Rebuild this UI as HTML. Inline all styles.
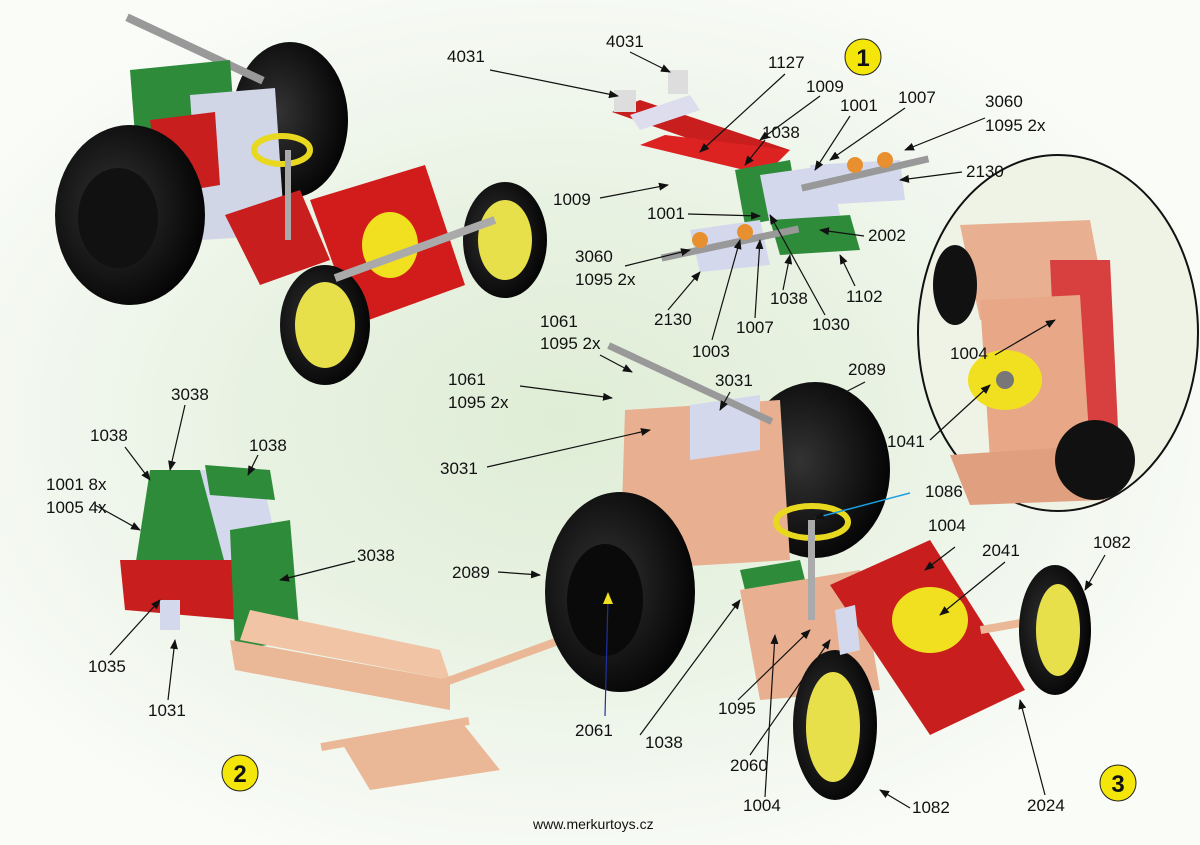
<!DOCTYPE html>
<html><head><meta charset="utf-8"><style>
html,body{margin:0;padding:0;width:1200px;height:845px;overflow:hidden}
body{background:radial-gradient(ellipse 700px 480px at 560px 420px,#dfedd6 0%,#e8f2e2 45%,#f4f8f1 80%,#fafcf8 100%)}
svg{display:block}
text{font-family:"Liberation Sans",Arial,sans-serif;font-size:17px;fill:#111}
</style></head><body>
<svg width="1200" height="845" viewBox="0 0 1200 845">
<defs>
<marker id="a" markerWidth="10" markerHeight="8" refX="9" refY="4" orient="auto" markerUnits="userSpaceOnUse"><path d="M0,0 L10,4 L0,8z" fill="#111"/></marker>
<radialGradient id="tire" cx="40%" cy="45%" r="60%"><stop offset="0" stop-color="#333"/><stop offset="1" stop-color="#050505"/></radialGradient>
</defs>

<g>
<ellipse cx="290" cy="120" rx="58" ry="78" fill="url(#tire)"/>
<rect x="120" y="45" width="150" height="8" fill="#999" transform="rotate(25 195 49)"/>
<polygon points="130,70 230,60 240,200 140,200" fill="#2e8b3a"/>
<polygon points="190,95 275,88 285,235 200,240" fill="#d0d6e6"/>
<polygon points="150,120 215,112 220,185 160,195" fill="#c81e1e"/>
<ellipse cx="130" cy="215" rx="75" ry="90" fill="url(#tire)"/>
<ellipse cx="118" cy="218" rx="40" ry="50" fill="#111"/>
<polygon points="225,215 300,190 330,260 260,285" fill="#c81e1e"/>
<polygon points="310,200 425,165 465,285 355,325" fill="#d21c1c"/>
<ellipse cx="390" cy="245" rx="28" ry="33" fill="#f0e020"/>
<ellipse cx="282" cy="150" rx="28" ry="14" fill="none" stroke="#e8d820" stroke-width="6"/>
<rect x="285" y="150" width="6" height="90" fill="#aaa"/>
<ellipse cx="505" cy="240" rx="42" ry="58" fill="url(#tire)"/>
<ellipse cx="505" cy="240" rx="27" ry="40" fill="#e8e04a"/>
<ellipse cx="325" cy="325" rx="45" ry="60" fill="url(#tire)"/>
<ellipse cx="325" cy="325" rx="30" ry="43" fill="#e8e04a"/>
<rect x="330" y="245" width="170" height="8" fill="#aaa" transform="rotate(-20 415 249)"/>
</g>

<g>
<polygon points="612,112 640,100 790,150 765,165" fill="#c81e1e"/>
<polygon points="640,145 665,135 790,150 765,175" fill="#d22"/>
<polygon points="630,115 690,95 700,110 640,130" fill="#dde"/>
<rect x="614" y="90" width="22" height="22" fill="#ddd"/>
<rect x="668" y="70" width="20" height="24" fill="#ddd"/>
<polygon points="735,170 790,160 800,215 745,225" fill="#2e8b3a"/>
<polygon points="760,175 830,165 840,215 770,225" fill="#d4d8ec"/>
<polygon points="770,220 850,215 860,250 780,255" fill="#2e8b3a"/>
<polygon points="810,165 900,160 905,200 820,205" fill="#d4d8ec"/>
<rect x="800" y="170" width="130" height="7" fill="#999" transform="rotate(-13 865 173)"/>
<polygon points="690,230 760,220 770,265 700,272" fill="#d4d8ec"/>
<rect x="660" y="240" width="140" height="7" fill="#999" transform="rotate(-12 730 243)"/>
<circle cx="855" cy="165" r="8" fill="#e89030"/>
<circle cx="885" cy="160" r="8" fill="#e89030"/>
<circle cx="700" cy="240" r="8" fill="#e89030"/>
<circle cx="745" cy="232" r="8" fill="#e89030"/>
</g>

<g>
<ellipse cx="1058" cy="333" rx="140" ry="178" fill="#eef3e6" stroke="#111" stroke-width="2"/>
<polygon points="960,225 1090,220 1105,300 980,320" fill="#e8b090"/>
<polygon points="1050,260 1110,260 1120,470 1060,470" fill="#d84040"/>
<polygon points="980,300 1080,295 1090,450 990,460" fill="#e8a888"/>
<polygon points="950,455 1100,445 1105,500 970,505" fill="#e0a080"/>
<ellipse cx="955" cy="285" rx="22" ry="40" fill="#111"/>
<ellipse cx="1095" cy="460" rx="40" ry="40" fill="#111"/>
<ellipse cx="1005" cy="380" rx="37" ry="30" fill="#f0e020"/>
<circle cx="1005" cy="380" r="9" fill="#777"/>
</g>

<g>
<polygon points="150,470 200,470 230,560 130,600" fill="#2e8b3a"/>
<polygon points="200,470 260,470 290,600 240,620" fill="#d4d8ec"/>
<polygon points="120,560 240,560 240,620 125,610" fill="#c81e1e"/>
<polygon points="230,530 290,520 300,640 235,650" fill="#2e8b3a"/>
<polygon points="205,465 270,470 275,500 210,495" fill="#2e8b3a"/>
<polygon points="230,640 450,680 450,710 235,670" fill="#eab896"/>
<polygon points="250,610 440,650 450,680 240,640" fill="#f0c4a4"/>
<polygon points="340,740 460,720 500,770 370,790" fill="#eab896"/>
<rect x="430" y="660" width="130" height="8" fill="#eab896" transform="rotate(-20 495 664)"/>
<rect x="320" y="730" width="150" height="8" fill="#eab896" transform="rotate(-10 395 734)"/>
<polygon points="160,600 180,600 180,630 160,630" fill="#d4d8ec"/>
</g>

<g>
<ellipse cx="815" cy="470" rx="75" ry="88" fill="url(#tire)"/>
<polygon points="625,410 780,400 790,560 620,570" fill="#e8b090"/>
<polygon points="690,405 760,395 760,450 690,460" fill="#d4d8ec"/>
<rect x="600" y="380" width="180" height="7" fill="#999" transform="rotate(25 690 384)"/>
<ellipse cx="620" cy="592" rx="75" ry="100" fill="url(#tire)"/>
<ellipse cx="605" cy="600" rx="38" ry="56" fill="#0a0a0a"/>
<polygon points="740,570 800,560 810,600 750,610" fill="#2e8b3a"/>
<polygon points="740,590 860,570 880,690 760,700" fill="#e8b090"/>
<ellipse cx="812" cy="522" rx="36" ry="16" fill="none" stroke="#e8d820" stroke-width="6"/>
<rect x="808" y="520" width="7" height="100" fill="#aaa"/>
<polygon points="830,585 930,540 1025,690 930,735" fill="#c81e1e"/>
<ellipse cx="930" cy="620" rx="38" ry="33" fill="#f0e020"/>
<rect x="980" y="620" width="70" height="8" fill="#eab896" transform="rotate(-10 1015 624)"/>
<ellipse cx="1055" cy="630" rx="36" ry="65" fill="url(#tire)"/>
<ellipse cx="1058" cy="630" rx="22" ry="46" fill="#e8e04a"/>
<ellipse cx="835" cy="725" rx="42" ry="75" fill="url(#tire)"/>
<ellipse cx="833" cy="727" rx="27" ry="55" fill="#e8e04a"/>
<polygon points="835,610 855,605 860,650 840,655" fill="#d4d8ec"/>
</g>

<g stroke="#111" stroke-width="1.2" fill="none" marker-end="url(#a)">
<line x1="490" y1="70" x2="618" y2="96"/>
<line x1="630" y1="52" x2="670" y2="72"/>
<line x1="785" y1="74" x2="700" y2="152"/>
<line x1="820" y1="96" x2="760" y2="140"/>
<line x1="850" y1="116" x2="815" y2="170"/>
<line x1="905" y1="108" x2="830" y2="160"/>
<line x1="985" y1="118" x2="905" y2="150"/>
<line x1="962" y1="172" x2="900" y2="180"/>
<line x1="765" y1="140" x2="745" y2="165"/>
<line x1="600" y1="198" x2="668" y2="185"/>
<line x1="688" y1="214" x2="760" y2="216"/>
<line x1="864" y1="236" x2="820" y2="230"/>
<line x1="625" y1="266" x2="690" y2="250"/>
<line x1="668" y1="310" x2="700" y2="272"/>
<line x1="783" y1="290" x2="790" y2="255"/>
<line x1="855" y1="286" x2="840" y2="255"/>
<line x1="755" y1="318" x2="760" y2="240"/>
<line x1="825" y1="315" x2="770" y2="215"/>
<line x1="712" y1="340" x2="740" y2="240"/>
<line x1="600" y1="355" x2="632" y2="372"/>
<line x1="520" y1="386" x2="612" y2="398"/>
<line x1="730" y1="392" x2="720" y2="410"/>
<line x1="865" y1="382" x2="830" y2="400"/>
<line x1="487" y1="467" x2="650" y2="430"/>
<line x1="995" y1="355" x2="1055" y2="320"/>
<line x1="930" y1="440" x2="990" y2="385"/>
<line x1="955" y1="547" x2="925" y2="570"/>
<line x1="1005" y1="562" x2="940" y2="615"/>
<line x1="1105" y1="555" x2="1085" y2="590"/>
<line x1="498" y1="572" x2="540" y2="575"/>
<line x1="640" y1="735" x2="740" y2="600"/>
<line x1="738" y1="700" x2="810" y2="630"/>
<line x1="750" y1="755" x2="830" y2="640"/>
<line x1="765" y1="797" x2="775" y2="635"/>
<line x1="910" y1="808" x2="880" y2="790"/>
<line x1="1045" y1="795" x2="1020" y2="700"/>
<line x1="185" y1="405" x2="170" y2="470"/>
<line x1="125" y1="447" x2="150" y2="480"/>
<line x1="258" y1="455" x2="248" y2="475"/>
<line x1="95" y1="505" x2="140" y2="530"/>
<line x1="355" y1="561" x2="280" y2="580"/>
<line x1="110" y1="655" x2="160" y2="600"/>
<line x1="168" y1="700" x2="175" y2="640"/>
</g>
<line x1="910" y1="493" x2="815" y2="518" stroke="#1aa0e0" stroke-width="1.5" marker-end="url(#a)"/>
<line x1="605" y1="716" x2="608" y2="598" stroke="#2030a0" stroke-width="1.2"/>
<path d="M608,592 L603,604 L613,604z" fill="#f0e020"/>

<g>
<text x="447" y="62">4031</text>
<text x="606" y="47">4031</text>
<text x="768" y="68">1127</text>
<text x="806" y="92">1009</text>
<text x="840" y="111">1001</text>
<text x="898" y="103">1007</text>
<text x="985" y="107">3060</text>
<text x="985" y="131">1095 2x</text>
<text x="966" y="177">2130</text>
<text x="762" y="138">1038</text>
<text x="553" y="205">1009</text>
<text x="647" y="219">1001</text>
<text x="868" y="241">2002</text>
<text x="575" y="262">3060</text>
<text x="575" y="285">1095 2x</text>
<text x="654" y="325">2130</text>
<text x="770" y="304">1038</text>
<text x="846" y="302">1102</text>
<text x="736" y="333">1007</text>
<text x="812" y="330">1030</text>
<text x="692" y="357">1003</text>
<text x="540" y="327">1061</text>
<text x="540" y="349">1095 2x</text>
<text x="448" y="385">1061</text>
<text x="448" y="408">1095 2x</text>
<text x="715" y="386">3031</text>
<text x="848" y="375">2089</text>
<text x="440" y="474">3031</text>
<text x="950" y="359">1004</text>
<text x="887" y="447">1041</text>
<text x="925" y="497">1086</text>
<text x="928" y="531">1004</text>
<text x="982" y="556">2041</text>
<text x="1093" y="548">1082</text>
<text x="452" y="578">2089</text>
<text x="575" y="736">2061</text>
<text x="645" y="748">1038</text>
<text x="718" y="714">1095</text>
<text x="730" y="771">2060</text>
<text x="743" y="811">1004</text>
<text x="912" y="813">1082</text>
<text x="1027" y="811">2024</text>
<text x="171" y="400">3038</text>
<text x="90" y="441">1038</text>
<text x="249" y="451">1038</text>
<text x="46" y="490">1001 8x</text>
<text x="46" y="513">1005 4x</text>
<text x="357" y="561">3038</text>
<text x="88" y="672">1035</text>
<text x="148" y="716">1031</text>
<text x="533" y="829" style="font-size:14px">www.merkurtoys.cz</text>
</g>
<g>
<circle cx="863" cy="57" r="18" fill="#f5e60a" stroke="#222" stroke-width="1"/>
<text x="863" y="66" text-anchor="middle" style="font-size:24px;font-weight:bold">1</text>
<circle cx="240" cy="773" r="18" fill="#f5e60a" stroke="#222" stroke-width="1"/>
<text x="240" y="782" text-anchor="middle" style="font-size:24px;font-weight:bold">2</text>
<circle cx="1118" cy="783" r="18" fill="#f5e60a" stroke="#222" stroke-width="1"/>
<text x="1118" y="792" text-anchor="middle" style="font-size:24px;font-weight:bold">3</text>
</g>
</svg>
</body></html>
